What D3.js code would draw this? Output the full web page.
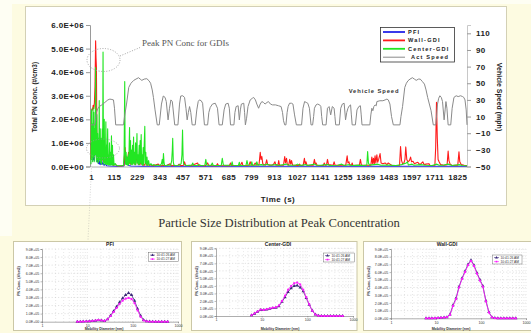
<!DOCTYPE html>
<html>
<head>
<meta charset="utf-8">
<script src="https://cdn.jsdelivr.net/npm/d3@7"></script>
<style>
  html, body { margin: 0; padding: 0; background: #fdfbe1; }
  svg { display: block; }
</style>
</head>
<body>
<svg id="chart"></svg>
<script>
// ---------- FTP-75 run: particle number (x1E+06 #/cm3) and vehicle speed ----------
const timeTicks = [1, 115, 229, 343, 457, 571, 685, 799, 913, 1027, 1141, 1255, 1369, 1483, 1597, 1711, 1825];
const concTicks = [0, 1, 2, 3, 4, 5, 6];
const speedTicks = [-50, -30, -10, 10, 30, 50, 70, 90, 110];
const seriesNames = ["PFI", "Wall-GDI", "Center-GDI", "Act Speed"];

// [time s, total PN x1E+06]
const pfiPN = [[1,0.9],[3,1.0],[5,0.55],[7,0.8],[9,0.4],[11,0.6],[13,0.3],[15,0.5],[17,0.25],[20,0.6],[23,1.0],[25,1.3],[27,0.6],[29,0.3],[32,0.2],[35,0.35],[38,0.12],[41,0.28],[44,0.1],[47,0.22],[50,0.08],[54,0.28],[58,0.1],[62,0.15],[66,0.05],[72,0.1],[80,0.03],[95,0.02],[130,0.01],[165,0.02],[169,0.3],[172,0.65],[175,0.15],[179,0.4],[183,0.08],[190,0.04],[200,0.02],[260,0.01],[1874,0.01]];

const wallPN = [[1,0.3],[3,2.3],[6,2.45],[9,2.4],[12,2.6],[15,2.45],[18,2.7],[21,3.4],[24,5.33],[26,4.6],[28,4.2],[30,1.5],[33,0.7],[36,1.1],[39,0.4],[43,0.7],[47,0.3],[51,0.55],[55,0.25],[59,0.45],[64,0.2],[69,0.35],[74,0.15],[79,0.3],[84,0.12],[90,0.22],[96,0.08],[104,0.15],[112,0.05],[120,0.1],[130,0.03],[150,0.02],[165,0.04],[168,0.45],[171,0.8],[174,0.3],[178,0.15],[184,0.3],[188,0.6],[192,0.15],[198,0.1],[203,0.3],[207,0.12],[212,0.42],[216,0.12],[222,0.08],[228,0.3],[232,0.35],[236,0.1],[245,0.08],[252,0.25],[256,0.08],[265,0.05],[275,0.15],[280,0.05],[295,0.08],[310,0.03],[336,0.1],[345,0.03],[380,0.05],[395,0.12],[400,0.03],[434,0.05],[440,0.1],[446,0.03],[462,0.05],[467,0.2],[472,0.05],[500,0.03],[532,0.15],[537,0.04],[570,0.03],[582,0.15],[587,0.04],[625,0.03],[631,0.12],[636,0.04],[690,0.03],[696,0.15],[701,0.04],[745,0.04],[753,0.18],[758,0.04],[788,0.05],[794,0.2],[800,0.06],[812,0.05],[819,0.15],[826,0.06],[838,0.08],[844,0.6],[848,0.3],[852,0.42],[857,0.1],[870,0.06],[876,0.28],[881,0.08],[900,0.05],[910,0.08],[917,0.2],[922,0.06],[932,0.05],[936,0.25],[940,0.05],[960,0.06],[966,0.42],[970,0.15],[975,0.35],[979,0.08],[986,0.06],[991,0.3],[996,0.1],[1000,0.25],[1005,0.06],[1035,0.04],[1040,0.1],[1045,0.04],[1058,0.05],[1064,0.35],[1068,0.1],[1072,0.2],[1077,0.05],[1108,0.05],[1114,0.3],[1118,0.1],[1122,0.15],[1127,0.05],[1158,0.04],[1163,0.15],[1168,0.05],[1174,0.06],[1179,0.3],[1184,0.08],[1207,0.05],[1212,0.2],[1217,0.05],[1270,0.06],[1277,0.45],[1281,0.15],[1286,0.2],[1290,0.06],[1298,0.05],[1302,0.15],[1306,0.04],[1338,0.06],[1343,0.3],[1348,0.06],[1395,0.05],[1400,0.4],[1404,0.12],[1408,0.35],[1412,0.1],[1416,0.45],[1420,0.15],[1425,0.5],[1429,0.18],[1434,0.3],[1441,0.55],[1446,0.15],[1455,0.12],[1466,0.15],[1475,0.08],[1482,0.15],[1490,0.1],[1500,0.04],[1538,0.05],[1543,0.85],[1548,0.25],[1553,0.12],[1560,0.15],[1565,0.3],[1569,0.83],[1574,0.3],[1580,0.2],[1587,0.25],[1593,0.4],[1598,0.2],[1605,0.22],[1612,0.12],[1620,0.15],[1629,0.18],[1636,0.1],[1645,0.12],[1654,0.2],[1660,0.08],[1670,0.1],[1684,0.12],[1690,0.04],[1714,0.05],[1718,0.8],[1722,2.72],[1726,1.2],[1730,0.3],[1735,0.2],[1742,0.08],[1760,0.05],[1775,0.08],[1780,0.65],[1784,0.25],[1790,0.1],[1800,0.04],[1828,0.06],[1834,0.62],[1838,0.2],[1845,0.08],[1860,0.05],[1874,0.03]];

const centerPN = [[1,0.1],[3,2.4],[5,0.3],[7,1.8],[9,0.2],[11,2.5],[13,0.4],[15,2.3],[17,0.2],[19,1.6],[21,0.5],[24,4.2],[26,0.6],[28,0.2],[30,2.2],[32,0.3],[34,1.4],[36,0.15],[38,1.2],[40,0.2],[42,2.8],[44,0.3],[47,1.6],[49,0.15],[52,1.2],[54,0.1],[57,1.6],[59,0.3],[61,4.85],[63,0.4],[65,0.1],[67,2.0],[69,0.15],[71,0.8],[73,0.1],[75,1.9],[77,0.1],[79,0.9],[81,0.08],[84,1.6],[86,0.1],[88,0.5],[90,0.05],[93,1.0],[95,0.08],[98,0.6],[100,0.05],[103,1.3],[105,0.08],[108,0.9],[110,0.05],[113,0.5],[116,0.05],[122,0.12],[128,0.04],[140,0.03],[155,0.03],[163,0.05],[166,0.6],[169,3.6],[171,0.5],[173,0.1],[176,0.6],[178,0.08],[181,0.4],[184,0.06],[187,0.5],[189,0.08],[193,1.65],[195,0.15],[198,1.1],[200,0.1],[203,0.7],[205,0.08],[208,0.9],[210,0.1],[213,1.25],[215,0.15],[218,0.6],[220,0.08],[223,1.0],[225,0.1],[228,0.7],[230,1.4],[232,0.15],[235,0.5],[237,0.08],[241,0.9],[243,0.1],[246,1.1],[248,0.15],[251,1.35],[253,0.1],[256,0.5],[258,0.06],[261,0.8],[263,0.08],[266,0.9],[269,1.7],[271,0.15],[274,0.6],[276,0.06],[280,0.4],[283,0.05],[288,0.25],[292,0.04],[300,0.12],[305,0.04],[315,0.08],[322,0.03],[330,0.06],[345,0.04],[352,0.12],[356,0.3],[359,0.06],[362,0.55],[365,0.15],[368,0.05],[375,0.04],[385,0.06],[398,0.05],[403,0.25],[406,0.7],[408,1.2],[411,0.2],[414,0.06],[422,0.04],[435,0.05],[445,0.08],[450,0.12],[454,0.5],[457,1.55],[460,0.3],[463,0.1],[470,0.06],[478,0.04],[490,0.05],[503,0.06],[508,0.15],[512,0.04],[530,0.04],[540,0.08],[548,0.04],[568,0.05],[573,0.3],[577,0.06],[600,0.05],[605,0.15],[610,0.04],[650,0.05],[655,0.35],[660,0.08],[664,0.05],[700,0.05],[704,0.2],[708,0.05],[735,0.04],[740,0.18],[744,0.04],[773,0.05],[778,0.25],[783,0.06],[798,0.05],[802,0.2],[806,0.05],[822,0.05],[827,0.2],[832,0.06],[850,0.08],[860,0.05],[880,0.1],[890,0.05],[925,0.08],[935,0.04],[975,0.1],[985,0.05],[1020,0.05],[1030,0.1],[1040,0.04],[1070,0.08],[1080,0.04],[1115,0.1],[1125,0.05],[1150,0.06],[1180,0.08],[1190,0.04],[1230,0.05],[1250,0.1],[1260,0.04],[1290,0.08],[1300,0.04],[1340,0.06],[1360,0.04],[1375,0.06],[1379,0.63],[1383,0.15],[1388,0.06],[1410,0.08],[1430,0.1],[1445,0.05],[1480,0.06],[1520,0.04],[1548,0.08],[1572,0.15],[1577,0.2],[1582,0.06],[1600,0.1],[1610,0.05],[1640,0.08],[1670,0.05],[1700,0.04],[1724,0.1],[1735,0.05],[1760,0.06],[1780,0.1],[1800,0.04],[1835,0.08],[1850,0.04],[1874,0.03]];

// [time s, mph]
const actSpeed = [[1,0],[20,0],[24,8],[28,15],[34,19],[42,22],[55,24],[70,27],[85,30],[95,31],[105,30.5],[113,30],[118,20],[124,0],
[163,0],[168,10],[178,25],[189,45],[200,50],[214,53.5],[225,55],[238,56.7],[246,55],[254,53.5],[266,55],[279,55.5],[290,53],[298,50],[306,42],[312,33],[320,18],[331,0],
[341,0],[352,25],[361,34.7],[370,33],[376,28],[385,6],[392,20],[399,30],[406,28],[418,0],
[434,0],[442,25],[448,34.7],[458,35],[467,33],[474,20],[480,6],[486,15],[492,22],[498,15],[505,0],
[520,0],[528,18],[535,28],[541,30],[550,29],[557,26],[566,0],
[582,0],[588,15],[595,21],[606,25],[620,26],[631,20],[639,0],
[655,0],[664,18],[672,25],[684,26],[690,20],[696,0],
[713,0],[718,15],[724,22],[734,23],[740,6],[745,18],[750,25],[762,26],[766,15],[770,0],
[776,8],[783,22],[794,30],[805,32],[811,33],[820,30],[827,25],[836,20],[844,25],[852,28],[860,27],[868,25],[878,27],[885,28],[895,25],[905,24],[920,24],[935,23],[948,22],[955,15],[960,5],[966,0],
[972,0],[978,15],[983,22],[990,26],[1000,26],[1007,25],[1015,12],[1024,0],
[1050,0],[1057,20],[1065,28],[1073,27],[1081,26],[1089,20],[1097,0],
[1105,0],[1110,10],[1114,20],[1122,24],[1130,25],[1140,24],[1146,22],[1150,10],[1155,0],
[1172,0],[1179,20],[1187,22],[1195,12],[1203,22],[1212,20],[1216,10],[1220,0],
[1238,0],[1245,20],[1253,25],[1262,26],[1269,6],[1275,15],[1281,20],[1288,23],[1294,24],[1298,12],[1302,0],
[1318,0],[1326,18],[1335,22],[1343,23],[1347,12],[1351,0],
[1390,0],[1395,12],[1400,20],[1405,17],[1410,22],[1416,24],[1422,23],[1425,28],[1440,29],[1455,29],[1466,30],[1475,31],[1482,30],[1490,25],[1498,10],[1507,0],
[1540,0],[1545,10],[1553,22],[1564,45],[1572,50],[1580,53],[1590,55],[1602,56.7],[1612,55],[1621,53.5],[1632,55],[1641,55],[1652,52],[1662,49],[1670,42],[1678,33],[1695,17],[1706,0],
[1719,0],[1727,25],[1733,32],[1739,35],[1746,33],[1752,28],[1760,6],[1765,18],[1769,28],[1774,20],[1780,0],
[1793,0],[1800,20],[1809,33],[1820,35],[1830,34],[1842,35],[1852,34],[1858,33],[1864,30],[1870,18],[1874,0]];

// ---------- size distributions at peak (x1E+05 #/cm3) ----------
const diamTicks = [1, 10, 100, 1000];
const distTicks = [0, 1, 2, 3, 4, 5, 6, 7, 8, 9];
const mobilityDiam = [6.0, 7.0, 8.1, 9.5, 11.1, 12.9, 15.1, 17.5, 20.5, 23.9, 27.9, 32.5, 37.9, 44.2, 51.4, 60.0, 69.8, 81.3, 94.7, 110.0, 128.3, 149.9, 174.7, 203.4, 237.1, 276.3, 322.0, 375.3, 437.1, 509.5, 593.5];
const scanLabels = ["10:41:26 AM", "10:41:27 AM"];
const pfiScanA = [0.0,0.01,0.02,0.04,0.06,0.09,0.13,0.19,0.16,0.09,0.3,0.75,1.3,1.85,2.4,2.9,3.3,3.55,3.3,2.6,1.6,0.75,0.2,0.05,0.02,0.01,0,0,0,0,0];
const pfiScanB = [0.0,0.01,0.02,0.04,0.06,0.1,0.15,0.21,0.17,0.1,0.3,0.7,1.2,1.7,2.2,2.6,2.85,2.95,2.8,2.3,1.4,0.6,0.15,0.04,0.01,0,0,0,0,0,0];
const centerScanA = [0.1,0.3,0.55,0.8,0.8,0.85,0.95,1.05,1.1,1.3,1.9,2.5,3.2,3.7,4.0,4.05,3.8,3.3,2.4,1.5,0.7,0.2,0.05,0.01,0,0,0,0,0,0,0];
const centerScanB = [0.1,0.35,0.6,0.85,0.8,0.9,1.0,1.1,1.15,1.4,2.0,2.7,3.5,4.0,4.35,4.45,4.2,3.5,2.5,1.55,0.7,0.2,0.04,0.01,0,0,0,0,0,0,0];
const wallScanA = [0,0,0,0.02,0.05,0.08,0.1,0.15,0.5,1.7,2.6,4.1,5.2,6.1,7.0,7.55,6.9,5.9,5.0,4.2,2.3,0.8,0.15,0.03,0,0,0,0,0,0,0];
const wallScanB = [0,0,0,0.02,0.05,0.08,0.1,0.15,0.45,1.6,2.5,4.0,5.1,6.0,6.9,7.45,6.8,5.8,4.9,4.1,2.2,0.75,0.12,0.02,0,0,0,0,0,0,0];

// ---------- drawing ----------
const W = 531, H = 333;
const FONT = 'Arial, "Liberation Sans", Helvetica, sans-serif';
const SERIF = '"Times New Roman", "Liberation Serif", serif';
const COL = { pfi: "#2424e8", wall: "#ff1a1a", center: "#22e622", speed: "#8a8a8a" };
const sci = (m, e) => m.toFixed(1) + "E+" + String(e).padStart(2, "0");

const svg = d3.select("#chart").attr("width", W).attr("height", H);
svg.append("rect").attr("width", W).attr("height", H).attr("fill", "#fdfbe1");
svg.append("rect").attr("width", 12).attr("height", 236).attr("fill", "#fefef3");
svg.append("rect").attr("width", W).attr("height", 4).attr("fill", "#fefef3");

// main panel
svg.append("rect").attr("x", 25.5).attr("y", 6.5).attr("width", 481).attr("height", 199)
  .attr("fill", "#fff").attr("stroke", "#d3d0b5");

const x = d3.scaleLinear().domain([1, 1874]).range([91, 467]);
const yL = d3.scaleLinear().domain([0, 6]).range([166.5, 25]);
const yR = d3.scaleLinear().domain([-50, 120]).range([166.5, 25]);

function styleAxis(g, size, spacing) {
  g.select(".domain").attr("stroke", "#9a9a9a");
  g.selectAll(".tick line").attr("stroke", "#9a9a9a");
  g.selectAll("text").attr("font-family", FONT).attr("font-weight", "bold")
    .attr("font-size", size).attr("letter-spacing", spacing).attr("fill", "#222");
}

const axL = svg.append("g").attr("transform", "translate(90,0)")
  .call(d3.axisLeft(yL).tickValues(concTicks).tickSize(4).tickPadding(2)
    .tickFormat(v => sci(v, v ? 6 : 0)));
styleAxis(axL, 8, 0.4);

const axB = svg.append("g").attr("transform", "translate(0,166.5)")
  .call(d3.axisBottom(x).tickValues(timeTicks).tickSize(0).tickFormat(d3.format("d")));
styleAxis(axB, 8, 0.3);
axB.selectAll("text").attr("y", 8);
axB.select(".domain").attr("stroke", "#b0b0b0");

const axR = svg.append("g").attr("transform", "translate(467,0)")
  .call(d3.axisRight(yR).tickValues(speedTicks).tickSize(4).tickPadding(5));
styleAxis(axR, 8, 0.4);
axR.select(".domain").attr("stroke", "#c8c8c8");

svg.append("defs").append("clipPath").attr("id", "plot")
  .append("rect").attr("x", 90).attr("y", 20).attr("width", 378).attr("height", 147);

const plot = svg.append("g").attr("clip-path", "url(#plot)");
const pnLine = d3.line().x(d => x(d[0])).y(d => yL(d[1]));
const spLine = d3.line().x(d => x(d[0])).y(d => yR(d[1]));
[[pfiPN, COL.pfi], [wallPN, COL.wall], [centerPN, COL.center]].forEach(([s, c]) => {
  plot.append("path").attr("d", pnLine(s)).attr("fill", "none")
    .attr("stroke", c).attr("stroke-width", 1.1).attr("stroke-linejoin", "round");
});
plot.append("path").attr("d", spLine(actSpeed)).attr("fill", "none")
  .attr("stroke", COL.speed).attr("stroke-width", 1);

// axis titles
svg.append("text").attr("transform", "translate(37,97) rotate(-90)")
  .attr("text-anchor", "middle").attr("font-family", FONT).attr("font-weight", "bold")
  .attr("font-size", 6.5).attr("fill", "#222").text("Total PN Conc. (#/cm3)");
svg.append("text").attr("transform", "translate(497,97) rotate(90)")
  .attr("text-anchor", "middle").attr("font-family", FONT).attr("font-weight", "bold")
  .attr("font-size", 7).attr("fill", "#222").text("Vehicle Speed (mph)");
svg.append("text").attr("x", 278).attr("y", 201.5).attr("text-anchor", "middle")
  .attr("font-family", FONT).attr("font-weight", "bold").attr("font-size", 8)
  .attr("letter-spacing", 0.5).attr("fill", "#222").text("Time (s)");

// legend
const lg = svg.append("g");
lg.append("rect").attr("x", 380.5).attr("y", 27.5).attr("width", 74).attr("height", 34.5)
  .attr("fill", "#fff").attr("stroke", "#333").attr("stroke-width", 0.8);
const lgCols = [COL.pfi, COL.wall, COL.center, COL.speed];
seriesNames.forEach((n, i) => {
  const yy = 32 + i * 8.4;
  lg.append("line").attr("x1", 383).attr("x2", 405).attr("y1", yy).attr("y2", yy)
    .attr("stroke", lgCols[i]).attr("stroke-width", i < 3 ? 1.8 : 1);
  lg.append("text").attr("x", i < 3 ? 408 : 411).attr("y", yy + 2).attr("font-family", FONT)
    .attr("font-weight", "bold").attr("font-size", 5.6).attr("letter-spacing", 1.2)
    .attr("fill", "#222").text(n);
});

// annotations
svg.append("text").attr("x", 374).attr("y", 93).attr("text-anchor", "middle")
  .attr("font-family", FONT).attr("font-weight", "bold").attr("font-size", 5.8)
  .attr("letter-spacing", 0.9).attr("fill", "#333").text("Vehicle Speed");
svg.append("text").attr("x", 142).attr("y", 46).attr("font-family", SERIF)
  .attr("font-size", 9).attr("fill", "#555").text("Peak PN Conc for GDIs");
const dots = { fill: "none", stroke: "#9a9a9a", "stroke-width": 0.9, "stroke-dasharray": "1,1.6" };
function dotted(sel) { Object.entries(dots).forEach(([k, v]) => sel.attr(k, v)); return sel; }
dotted(svg.append("ellipse").attr("cx", 103.5).attr("cy", 60).attr("rx", 16.5).attr("ry", 11.5));
dotted(svg.append("ellipse").attr("cx", 103).attr("cy", 148.5).attr("rx", 16.5).attr("ry", 9.5));
dotted(svg.append("line").attr("x1", 120).attr("y1", 56).attr("x2", 140).attr("y2", 47.5));
dotted(svg.append("line").attr("x1", 92).attr("y1", 158).attr("x2", 88).attr("y2", 240)).attr("opacity", 0.45);

// sub-heading
svg.append("text").attr("x", 279).attr("y", 226.5).attr("text-anchor", "middle")
  .attr("font-family", SERIF).attr("font-size", 12.6).attr("fill", "#333")
  .text("Particle Size Distribution at Peak Concentration");

// ---------- small size-distribution panels ----------
function sizePanel(c) {
  const g = svg.append("g");
  g.append("rect").attr("x", c.box[0]).attr("y", c.box[1]).attr("width", c.box[2]).attr("height", c.box[3])
    .attr("fill", "#fff").attr("stroke", "#cbc7a6");
  const sx = d3.scaleLog().domain([1, 1000]).range(c.xr);
  const sy = d3.scaleLinear().domain([0, 9]).range(c.yr);
  // grid
  const minor = [];
  [1, 10, 100].forEach(d => { for (let m = 2; m <= 10; m++) minor.push(d * m); });
  g.selectAll(null).data(minor).join("line")
    .attr("x1", d => sx(d)).attr("x2", d => sx(d)).attr("y1", c.yr[1]).attr("y2", c.yr[0])
    .attr("stroke", "#c4c4c4").attr("stroke-width", 0.5).attr("stroke-dasharray", "0.8,2.2");
  g.selectAll(null).data(distTicks.slice(1)).join("line")
    .attr("x1", c.xr[0]).attr("x2", c.xr[1]).attr("y1", d => sy(d)).attr("y2", d => sy(d))
    .attr("stroke", "#c4c4c4").attr("stroke-width", 0.5).attr("stroke-dasharray", "1.2,2");
  // axes
  const ay = g.append("g").attr("transform", `translate(${c.xr[0]},0)`)
    .call(d3.axisLeft(sy).tickValues(distTicks).tickSize(1.5).tickPadding(1.2)
      .tickFormat(v => sci(v, v ? 5 : 0)));
  const ax = g.append("g").attr("transform", `translate(0,${c.yr[0]})`)
    .call(d3.axisBottom(sx).tickValues(diamTicks).tickSize(1.5).tickPadding(1.2).tickFormat(d3.format("d")));
  [ay, ax].forEach(a => {
    a.select(".domain").attr("stroke", "#777").attr("stroke-width", 0.6);
    a.selectAll(".tick line").attr("stroke", "#777").attr("stroke-width", 0.5);
    a.selectAll("text").attr("font-family", FONT).attr("font-size", 3.6).attr("fill", "#333");
  });
  // titles
  g.append("text").attr("x", c.titleX).attr("y", 245.5).attr("text-anchor", "middle")
    .attr("font-family", FONT).attr("font-weight", "bold").attr("font-size", 5).attr("fill", "#222").text(c.title);
  g.append("text").attr("x", c.xTitleX).attr("y", 329.5).attr("text-anchor", "middle")
    .attr("font-family", FONT).attr("font-weight", "bold").attr("font-size", 3.6).attr("fill", "#333")
    .text("Mobility Diameter (nm)");
  g.append("text").attr("transform", `translate(${c.yTitleX},281) rotate(-90)`).attr("text-anchor", "middle")
    .attr("font-family", FONT).attr("font-weight", "bold").attr("font-size", 3.6).attr("fill", "#333")
    .text("PN Conc. (#/cm3)");
  // series
  const ln = d3.line().x((d, i) => sx(mobilityDiam[i])).y(d => sy(d));
  const styles = [
    { col: "#3c2a7a", sym: d3.symbolTriangle, size: 5 },
    { col: "#ff1aff", sym: d3.symbolSquare, size: 4 }
  ];
  [c.a, c.b].forEach((vals, k) => {
    const st = styles[k];
    g.append("path").attr("d", ln(vals)).attr("fill", "none").attr("stroke", st.col).attr("stroke-width", 0.8);
    g.selectAll(null).data(vals).join("path")
      .attr("transform", (d, i) => `translate(${sx(mobilityDiam[i])},${sy(d)})`)
      .attr("d", d3.symbol(st.sym, st.size)).attr("fill", st.col);
  });
  // legend
  const [lx, ly, lw] = c.legend;
  g.append("rect").attr("x", lx).attr("y", ly).attr("width", lw).attr("height", 9)
    .attr("fill", "#fff").attr("stroke", "#555").attr("stroke-width", 0.4);
  scanLabels.forEach((t, k) => {
    const st = styles[k], yy = ly + 2.6 + k * 4;
    g.append("line").attr("x1", lx + 1.5).attr("x2", lx + 6.5).attr("y1", yy).attr("y2", yy)
      .attr("stroke", st.col).attr("stroke-width", 0.6);
    g.append("path").attr("transform", `translate(${lx + 4},${yy})`)
      .attr("d", d3.symbol(st.sym, st.size * 0.7)).attr("fill", st.col);
    g.append("text").attr("x", lx + 8).attr("y", yy + 1.2).attr("font-family", FONT)
      .attr("font-size", 3.3).attr("fill", "#333").text(t);
  });
}

sizePanel({ title: "PFI", box: [13.5, 241.5, 168, 89], xr: [42, 178], yr: [321.7, 249],
  titleX: 110, xTitleX: 104, yTitleX: 20, legend: [148.5, 252.5, 30], a: pfiScanA, b: pfiScanB });
sizePanel({ title: "Center-GDI", box: [191.5, 241.5, 165.5, 89], xr: [216, 353], yr: [316, 248.3],
  titleX: 278, xTitleX: 280, yTitleX: 197.5, legend: [323.5, 253, 31], a: centerScanA, b: centerScanB });
sizePanel({ title: "Wall-GDI", box: [363.5, 241.5, 170, 89], xr: [391, 526], yr: [318.3, 249],
  titleX: 447, xTitleX: 451, yTitleX: 370, legend: [492.5, 255, 29.5], a: wallScanA, b: wallScanB });
</script>
</body>
</html>
